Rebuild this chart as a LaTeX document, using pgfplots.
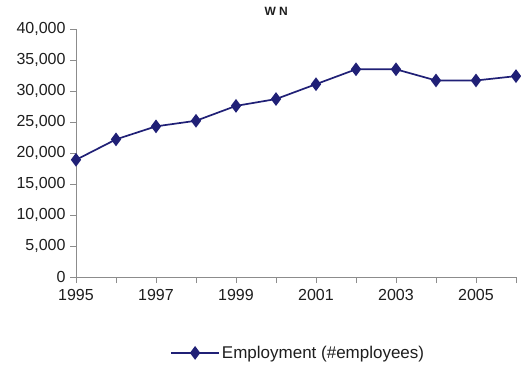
\documentclass[border=0pt]{standalone}
\usepackage{pgfplots}
\pgfplotsset{compat=1.18}
\usepackage{fontspec}
\setmainfont{Liberation Sans}
\definecolor{navy}{RGB}{32,32,118}
\definecolor{axgray}{RGB}{140,140,140}
\definecolor{txt}{RGB}{30,30,30}
\begin{document}
\begin{tikzpicture}[x=1pt,y=1pt]
\useasboundingbox (-76,-91) rectangle (445,277);
\begin{axis}[
  at={(0,0)}, anchor=south west,
  scale only axis,
  width=440pt, height=248pt,
  xmin=1995, xmax=2006,
  ymin=0, ymax=40000,
  axis x line*=bottom, axis y line*=left,
  axis line style={axgray, line width=0.8pt},
  tick style={axgray, line width=0.8pt},
  tick align=outside,
  major tick length=6pt,
  xtick={1995,...,2006},
  xticklabels={1995,,1997,,1999,,2001,,2003,,2005,},
  ytick={0,5000,...,40000},
  /pgf/number format/assume math mode=true,
  yticklabel style={/pgf/number format/1000 sep={,}, font=\fontsize{16}{18}\selectfont, text=txt, xshift=-1pt},
  xticklabel style={font=\fontsize{16}{18}\selectfont, text=txt, yshift=-3pt},
  scaled y ticks=false,
  clip=false,
  title={\textbf{W N}},
  every axis title shift=0pt,
  title style={font=\fontsize{12}{13}\selectfont, text=txt, at={(axis description cs:0.455,1.07)}, anchor=center, yshift=0pt},
  legend style={draw=none, fill=none, font=\fontsize{17}{19}\selectfont, text=txt,
    at={(axis description cs:0.505,-0.306)}, anchor=center},
  legend cell align=left,
  legend image code/.code={
    \draw[#1, mark=none] (0pt,0pt) -- (48pt,0pt);
    \draw[#1, only marks] plot coordinates {(24pt,0pt)};
  },
]
\addplot[navy, line width=1.7pt, mark=diamond*, mark size=5.5pt, mark options={fill=navy, draw=navy}]
coordinates {
(1995,18900) (1996,22200) (1997,24300) (1998,25200) (1999,27600) (2000,28700)
(2001,31100) (2002,33500) (2003,33500) (2004,31700) (2005,31700) (2006,32400)
};
\addlegendentry{Employment (\#employees)}
\end{axis}
\end{tikzpicture}
\end{document}
